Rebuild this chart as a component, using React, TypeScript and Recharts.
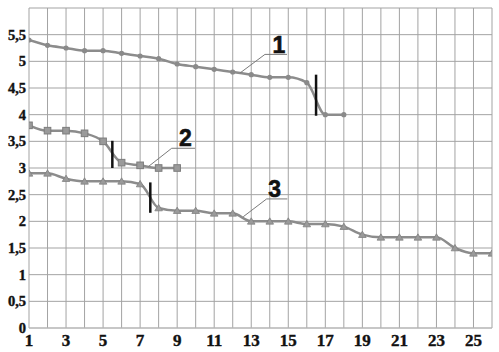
import React from 'react';
import { LineChart, Line, XAxis, YAxis, CartesianGrid, ReferenceLine, ReferenceDot } from 'recharts';

const xTicks = [1, 2, 3, 4, 5, 6, 7, 8, 9, 10, 11, 12, 13, 14, 15, 16, 17, 18, 19, 20, 21, 22, 23, 24, 25, 26];
const yTicks = [0, 0.5, 1, 1.5, 2, 2.5, 3, 3.5, 4, 4.5, 5, 5.5];

const x1 = [1, 2, 3, 4, 5, 6, 7, 8, 9, 10, 11, 12, 13, 14, 15, 16, 17, 18];
const s1 = [5.4, 5.3, 5.25, 5.2, 5.2, 5.15, 5.1, 5.05, 4.95, 4.9, 4.85, 4.8, 4.75, 4.7, 4.7, 4.6, 4.0, 4.0];

const x2 = [1, 2, 3, 4, 5, 6, 7, 8, 9];
const s2 = [3.8, 3.7, 3.7, 3.65, 3.5, 3.1, 3.05, 3.0, 3.0];

const x3 = [1, 2, 3, 4, 5, 6, 7, 8, 9, 10, 11, 12, 13, 14, 15, 16, 17, 18, 19, 20, 21, 22, 23, 24, 25, 26];
const s3 = [2.9, 2.9, 2.8, 2.75, 2.75, 2.75, 2.7, 2.25, 2.2, 2.2, 2.15, 2.15, 2.0, 2.0, 2.0, 1.95, 1.95, 1.9, 1.75, 1.7, 1.7, 1.7, 1.7, 1.5, 1.4, 1.4];

// break marks: [x, yTop, yBottom]
const breaks = [
  [16.5, 4.75, 3.98],
  [5.5, 3.51, 3.0],
  [7.55, 2.73, 2.16],
];

// labels: name, text position, leader start, leader knee, underline end
const labelNames = ['1', '2', '3'];
const labelPos = [[14.5, 5.16], [9.44, 3.41], [14.27, 2.45]];
const leaderStart = [[12.39, 4.78], [7.44, 3.025], [12.57, 2.087]];
const leaderKnee = [[13.74, 5.13], [8.705, 3.37], [13.83, 2.42]];
const leaderEnd = [[14.93, 5.13], [9.963, 3.37], [14.95, 2.42]];

const d1 = x1.map((x, i) => ({ x, y: s1[i] }));
const d2 = x2.map((x, i) => ({ x, y: s2[i] }));
const d3 = x3.map((x, i) => ({ x, y: s3[i] }));

const LINE = '#8c8c8c';
const SERIF = 'Times New Roman, Liberation Serif, serif';

const circleDot = (p: any) => (
  <circle key={`c${p.index}`} cx={p.cx} cy={p.cy} r={2.6} fill="#8a8a8a" />
);
const squareDot = (p: any) => (
  <rect key={`s${p.index}`} x={p.cx - 3.3} y={p.cy - 3.3} width={6.6} height={6.6} fill="#9a9a9a" stroke="#7c7c7c" strokeWidth={1} />
);
const triDot = (p: any) => (
  <path key={`t${p.index}`} d={`M${p.cx},${p.cy - 3.5} L${p.cx + 3.8},${p.cy + 2.8} L${p.cx - 3.8},${p.cy + 2.8} Z`} fill="#9a9a9a" stroke="#808080" strokeWidth={0.8} />
);

const XTick = (p: any) => {
  const v = p.payload.value;
  if (v % 2 !== 1) return <g />;
  return (
    <text x={p.x} y={346} textAnchor="middle" style={{ fontFamily: SERIF, fontWeight: 700, fontSize: 17 }} fill="#111" stroke="#111" strokeWidth={0.4}>
      {String(v)}
    </text>
  );
};

const YTick = (p: any) => {
  const v = p.payload.value;
  return (
    <text x={26} y={p.y + 5} textAnchor="end" style={{ fontFamily: SERIF, fontWeight: 700, fontSize: 14.5 }} fill="#111" stroke="#111" strokeWidth={0.4}>
      {String(v).replace('.', ',')}
    </text>
  );
};

export default function App() {
  return (
    <div style={{ position: 'absolute', left: 0, top: 0, width: 499, height: 352, background: '#fff' }}>
      <LineChart width={499} height={352} margin={{ top: 8, right: 7, bottom: 0, left: 0 }}>
        <CartesianGrid stroke="#a3a3a3" strokeWidth={1} />
        <XAxis
          dataKey="x"
          type="number"
          domain={[1, 26]}
          ticks={xTicks}
          interval={0}
          allowDataOverflow
          height={24}
          tickSize={0}
          tickMargin={7}
          axisLine={{ stroke: '#bdbdbd' }}
          tick={XTick}
        />
        <YAxis
          type="number"
          domain={[0, 6]}
          ticks={yTicks}
          interval={0}
          width={29}
          axisLine={false}
          tickLine={false}
          tickSize={0}
          tickMargin={3}
          tick={YTick}
        />
        <Line data={d1} dataKey="y" type="monotone" stroke={LINE} strokeWidth={2.5} dot={circleDot} isAnimationActive={false} />
        <Line data={d2} dataKey="y" type="monotone" stroke={LINE} strokeWidth={2.5} dot={squareDot} isAnimationActive={false} />
        <Line data={d3} dataKey="y" type="monotone" stroke={LINE} strokeWidth={2.5} dot={triDot} isAnimationActive={false} />
        {breaks.map((b, i) => (
          <ReferenceLine key={`b${i}`} segment={[{ x: b[0], y: b[1] }, { x: b[0], y: b[2] }]} stroke="#111" strokeWidth={2.5} />
        ))}
        {labelNames.map((n, i) => (
          <ReferenceLine key={`l${i}`} segment={[{ x: leaderStart[i][0], y: leaderStart[i][1] }, { x: leaderKnee[i][0], y: leaderKnee[i][1] }]} stroke="#7a7a7a" strokeWidth={1} />
        ))}
        {labelNames.map((n, i) => (
          <ReferenceLine key={`u${i}`} segment={[{ x: leaderKnee[i][0], y: leaderKnee[i][1] }, { x: leaderEnd[i][0], y: leaderEnd[i][1] }]} stroke="#7a7a7a" strokeWidth={1} />
        ))}
        {labelNames.map((n, i) => (
          <ReferenceDot
            key={`t${i}`}
            x={labelPos[i][0]}
            y={labelPos[i][1]}
            r={0}
            shape={(p: any) => (
              <text x={p.cx} y={p.cy} textAnchor="middle" style={{ fontFamily: 'Liberation Sans, Arial, sans-serif', fontWeight: 700, fontSize: 23 }} fill="#111" stroke="#111" strokeWidth={0.6}>
                {n}
              </text>
            )}
          />
        ))}
      </LineChart>
    </div>
  );
}
